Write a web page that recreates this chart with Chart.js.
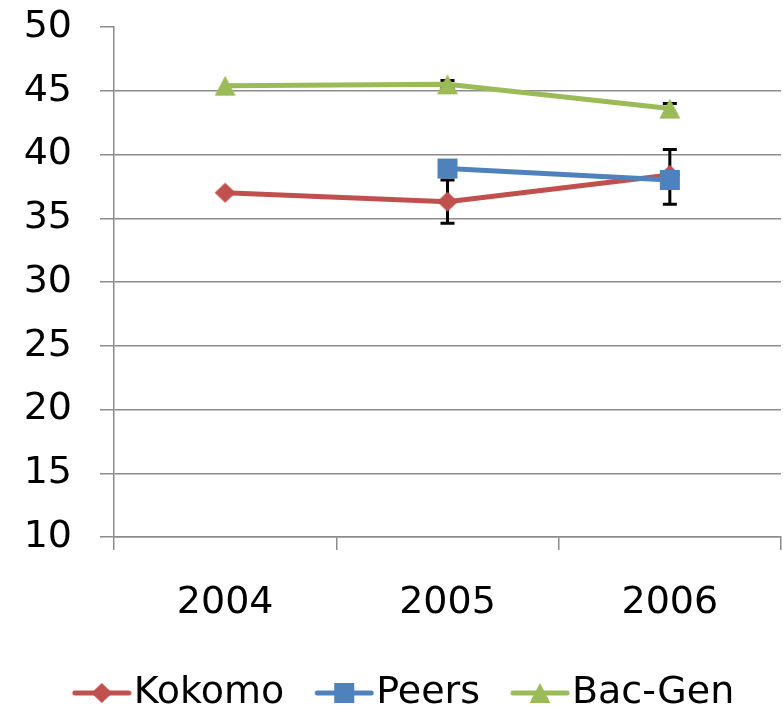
<!DOCTYPE html>
<html>
<head>
<meta charset="utf-8">
<script src="https://cdn.jsdelivr.net/npm/chart.js@4.4.1/dist/chart.umd.min.js"></script>
<style>
  html, body { margin: 0; padding: 0; background: #fff; }
</style>
</head>
<body>
<canvas id="chart" width="783" height="710"></canvas>
<script>
// Categories and series values
const years = ['2004', '2005', '2006'];
const kokomo = [37.0, 36.3, 38.4];
const peers = [null, 38.9, 38.0];
const bacGen = [45.4, 45.5, 43.6];

// Error bar ends
const kokomoLow = [null, 34.6, 36.1];
const kokomoHigh = [null, 38.0, 40.4];
const bacGenLow = [null, 45.2, 43.2];
const bacGenHigh = [null, 45.8, 44.0];

// Y axis tick labels
const yMin = 10;
const yMax = 50;
const yStep = 5;

const RED = '#C0504D';
const BLUE = '#4F81BD';
const GREEN = '#9BBB59';
const GREY = '#8c8c8c';
const FONT = { family: 'DejaVu Sans', size: 38 };

// draw one marker shape centred at (cx, cy)
function drawMarker(ctx, shape, color, cx, cy) {
    ctx.fillStyle = color;
    ctx.beginPath();
    if (shape === 'diamond') {
        ctx.moveTo(cx, cy - 10);
        ctx.lineTo(cx + 10.5, cy);
        ctx.lineTo(cx, cy + 10);
        ctx.lineTo(cx - 10.5, cy);
    } else if (shape === 'square') {
        ctx.rect(cx - 10, cy - 10, 20, 20);
    } else {
        ctx.moveTo(cx, cy - 10);
        ctx.lineTo(cx + 10.5, cy + 10);
        ctx.lineTo(cx - 10.5, cy + 10);
    }
    ctx.closePath();
    ctx.fill();
}

function makeMarker(shape, color) {
    const c = document.createElement('canvas');
    c.width = 24;
    c.height = 24;
    drawMarker(c.getContext('2d'), shape, color, 12, 12);
    return c;
}

// legend icon: blank on the left, line + marker on the right
function makeLegendIcon(shape, color) {
    const c = document.createElement('canvas');
    c.width = 106;
    c.height = 26;
    const ctx = c.getContext('2d');
    ctx.strokeStyle = color;
    ctx.lineWidth = 5;
    ctx.lineCap = 'round';
    ctx.beginPath();
    ctx.moveTo(49, 13);
    ctx.lineTo(103, 13);
    ctx.stroke();
    drawMarker(ctx, shape, color, 76, 13);
    return c;
}

const errorBars = {
    id: 'errorBars',
    beforeDatasetsDraw(chart) {
        const ctx = chart.ctx;
        const xs = chart.scales.x;
        const ys = chart.scales.y;
        ctx.save();
        ctx.strokeStyle = '#000';
        ctx.lineWidth = 3;
        chart.data.datasets.forEach(ds => {
            if (!ds.errLow) return;
            ds.errLow.forEach((lo, i) => {
                if (lo == null) return;
                const px = xs.getPixelForValue(i);
                const top = ys.getPixelForValue(ds.errHigh[i]);
                const bot = ys.getPixelForValue(lo);
                ctx.beginPath();
                ctx.moveTo(px, top);
                ctx.lineTo(px, bot);
                ctx.moveTo(px - 7, top);
                ctx.lineTo(px + 7, top);
                ctx.moveTo(px - 7, bot);
                ctx.lineTo(px + 7, bot);
                ctx.stroke();
            });
        });
        ctx.restore();
    }
};

// nudge the legend row a little to the left
const legendShift = {
    id: 'legendShift',
    afterLayout(chart) {
        if (chart.legend) chart.legend.left -= 4;
    }
};

new Chart(document.getElementById('chart'), {
    type: 'line',
    data: {
        labels: years,
        datasets: [
            {
                label: 'Kokomo',
                data: kokomo,
                errLow: kokomoLow,
                errHigh: kokomoHigh,
                borderColor: RED,
                backgroundColor: RED,
                borderWidth: 5,
                pointStyle: makeMarker('diamond', RED),
                legendIcon: makeLegendIcon('diamond', RED),
                order: 3
            },
            {
                label: 'Peers',
                data: peers,
                borderColor: BLUE,
                backgroundColor: BLUE,
                borderWidth: 5,
                pointStyle: makeMarker('square', BLUE),
                legendIcon: makeLegendIcon('square', BLUE),
                order: 2
            },
            {
                label: 'Bac-Gen',
                data: bacGen,
                errLow: bacGenLow,
                errHigh: bacGenHigh,
                borderColor: GREEN,
                backgroundColor: GREEN,
                borderWidth: 5,
                pointStyle: makeMarker('triangle', GREEN),
                legendIcon: makeLegendIcon('triangle', GREEN),
                order: 1
            }
        ]
    },
    options: {
        responsive: false,
        animation: false,
        layout: {
            autoPadding: false,
            padding: { top: 27, right: 2, left: 0, bottom: -12 }
        },
        plugins: {
            tooltip: { enabled: false },
            legend: {
                position: 'bottom',
                labels: {
                    usePointStyle: true,
                    pointStyleWidth: 72,
                    padding: 1,
                    color: '#000',
                    font: FONT,
                    generateLabels: chart => chart.data.datasets.map((ds, i) => ({
                        text: ds.label,
                        pointStyle: ds.legendIcon,
                        datasetIndex: i,
                        hidden: false,
                        fillStyle: ds.borderColor,
                        strokeStyle: ds.borderColor,
                        lineWidth: 0,
                        fontColor: '#000'
                    }))
                }
            }
        },
        scales: {
            x: {
                offset: true,
                grid: {
                    offset: true,
                    drawOnChartArea: false,
                    tickLength: 13,
                    color: GREY,
                    lineWidth: 1.5
                },
                border: { color: GREY, width: 1.5 },
                ticks: { color: '#000', font: FONT, padding: 30, maxRotation: 0 },
                afterFit: s => {
                    s.height = 136;
                    s.paddingLeft = 0;
                    s.paddingRight = 0;
                }
            },
            y: {
                min: yMin,
                max: yMax,
                grid: {
                    color: c => (c.tick && c.tick.value === yMax) ? 'rgba(0,0,0,0)' : GREY,
                    tickColor: GREY,
                    tickLength: 14,
                    lineWidth: 1.5
                },
                border: { color: GREY, width: 1.5 },
                ticks: { stepSize: yStep, color: '#000', font: FONT, padding: 28 },
                afterFit: s => {
                    s.width = 114;
                    s.paddingTop = 0;
                    s.paddingBottom = 0;
                }
            }
        }
    },
    plugins: [errorBars, legendShift]
});
</script>
</body>
</html>
